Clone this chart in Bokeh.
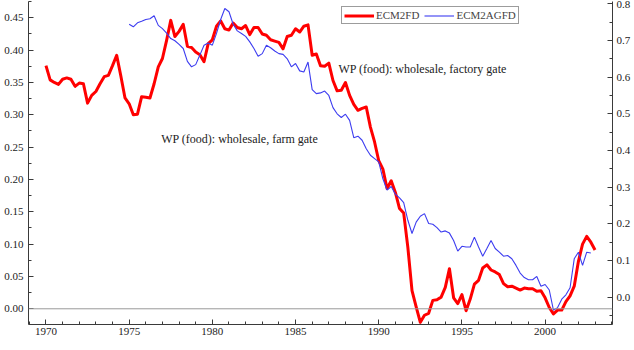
import numpy as np
from bokeh.plotting import figure
from bokeh.models import (Range1d, LinearAxis, FixedTicker, NumeralTickFormatter,
                          Span, Label, Legend, LegendItem)
from bokeh.embed import file_html
from bokeh.resources import INLINE

# Quarterly series
ecm2fd_start = 1970.0
ecm2fd = [
    0.376, 0.354, 0.350, 0.347,
    0.355, 0.357, 0.355, 0.344,
    0.349, 0.348, 0.318, 0.330,
    0.336, 0.348, 0.359, 0.361,
    0.376, 0.392, 0.360, 0.326,
    0.317, 0.300, 0.301, 0.328,
    0.327, 0.326, 0.348, 0.374,
    0.387, 0.415, 0.446, 0.421,
    0.429, 0.440, 0.406, 0.404,
    0.397, 0.393, 0.382, 0.410,
    0.416, 0.437, 0.445, 0.433,
    0.431, 0.442, 0.435, 0.433,
    0.438, 0.424, 0.435, 0.435,
    0.425, 0.423, 0.416, 0.414,
    0.412, 0.402, 0.421, 0.423,
    0.433, 0.428, 0.437, 0.439,
    0.392, 0.394, 0.376, 0.375,
    0.380, 0.353, 0.337, 0.338,
    0.350, 0.330, 0.316, 0.307,
    0.310, 0.312, 0.281, 0.258,
    0.229, 0.216, 0.186, 0.198,
    0.180, 0.155, 0.148, 0.095,
    0.028, 0.003, -0.021, -0.010,
    -0.007, 0.013, 0.014, 0.018,
    0.033, 0.062, 0.017, 0.008,
    0.022, -0.003, 0.015, 0.038,
    0.044, 0.063, 0.068, 0.060,
    0.057, 0.053, 0.039, 0.034,
    0.035, 0.032, 0.029, 0.032,
    0.031, 0.031, 0.027, 0.028,
    0.017, 0.002, -0.008, -0.002,
    -0.002, 0.011, 0.020, 0.035,
    0.073, 0.100, 0.112, 0.103,
    0.091,
]

ecm2agfd_start = 1975.0
ecm2agfd = [
    0.744, 0.737, 0.748, 0.752,
    0.757, 0.759, 0.767, 0.741,
    0.732, 0.720, 0.705, 0.699,
    0.689, 0.678, 0.643, 0.628,
    0.634, 0.660, 0.687, 0.693,
    0.687, 0.719, 0.757, 0.787,
    0.778, 0.744, 0.726, 0.719,
    0.711, 0.696, 0.678, 0.657,
    0.664, 0.687, 0.680, 0.671,
    0.664, 0.662, 0.650, 0.628,
    0.637, 0.617, 0.614, 0.641,
    0.566, 0.555, 0.557, 0.562,
    0.550, 0.517, 0.500, 0.490,
    0.499, 0.482, 0.435, 0.439,
    0.428, 0.405, 0.387, 0.378,
    0.369, 0.323, 0.292, 0.302,
    0.281, 0.271, 0.258, 0.210,
    0.174, 0.205, 0.221, 0.228,
    0.201, 0.199, 0.190, 0.178,
    0.181, 0.175, 0.155, 0.126,
    0.139, 0.137, 0.137, 0.164,
    0.137, 0.112, 0.133, 0.155,
    0.133, 0.123, 0.112, 0.114,
    0.105, 0.087, 0.066, 0.054,
    0.048, 0.048, 0.057, 0.030,
    0.035, 0.020, -0.035, -0.028,
    -0.005, 0.007, 0.026, 0.105,
    0.123, 0.087, 0.123, 0.121,
]

year_ticks = [1970, 1975, 1980, 1985, 1990, 1995, 2000]
left_ticks = [0.00, 0.05, 0.10, 0.15, 0.20, 0.25, 0.30, 0.35, 0.40, 0.45]
right_ticks = [0.0, 0.1, 0.2, 0.3, 0.4, 0.5, 0.6, 0.7, 0.8]

series_names = ["ECM2FD", "ECM2AGFD"]
notes = ["WP (food): wholesale, factory gate", "WP (food): wholesale, farm gate"]

FONT = "Liberation Serif"
AXIS_COLOR = "#3a3a3a"

x_fd = ecm2fd_start + np.arange(len(ecm2fd)) / 4.0
x_ag = ecm2agfd_start + np.arange(len(ecm2agfd)) / 4.0

p = figure(width=634, height=350, output_backend="svg", toolbar_location=None,
           x_range=Range1d(1968.95, 2004.05), y_range=Range1d(-0.0243, 0.4752),
           min_border_left=28, min_border_right=22, min_border_top=1,
           min_border_bottom=26)
p.extra_y_ranges = {"right": Range1d(-0.074, 0.806)}
p.xgrid.visible = False
p.ygrid.visible = False
p.outline_line_color = None
p.background_fill_color = "white"
p.border_fill_color = "white"

# zero reference line
p.add_layout(Span(location=0, dimension="width", line_color="#9a9a9a", line_width=1))

r_fd = p.line(x_fd, ecm2fd, line_color="#ff0000", line_width=3, line_join="round")
r_ag = p.line(x_ag, ecm2agfd, line_color="#3d3df0", line_width=1.1,
              y_range_name="right")

right_axis = LinearAxis(y_range_name="right")
p.add_layout(right_axis, "right")


def style_axis(ax):
    ax.axis_line_color = AXIS_COLOR
    ax.major_tick_line_color = AXIS_COLOR
    ax.minor_tick_line_color = AXIS_COLOR
    ax.major_tick_in = 5
    ax.major_tick_out = 0
    ax.minor_tick_in = 3
    ax.minor_tick_out = 0
    ax.major_label_text_font = FONT
    ax.major_label_text_font_size = "11px"
    ax.major_label_text_color = "#222222"


xa = p.xaxis[0]
style_axis(xa)
xa.ticker = FixedTicker(ticks=year_ticks, minor_ticks=list(range(1969, 2005)))
xa.major_label_standoff = 3

ya = p.yaxis[0]
style_axis(ya)
ya.ticker = FixedTicker(ticks=left_ticks,
                        minor_ticks=[round(-0.025 + 0.025 * i, 3) for i in range(21)])
ya.formatter = NumeralTickFormatter(format="0.00")
ya.major_label_standoff = 5

style_axis(right_axis)
right_axis.ticker = FixedTicker(ticks=right_ticks,
                                minor_ticks=[round(-0.05 + 0.05 * i, 3) for i in range(18)])
right_axis.formatter = NumeralTickFormatter(format="0.0")
right_axis.major_label_standoff = 4

legend = Legend(items=[LegendItem(label=series_names[0], renderers=[r_fd]),
                       LegendItem(label=series_names[1], renderers=[r_ag])],
                orientation="horizontal", location=(313, 300),
                padding=2, margin=0, spacing=5, glyph_width=30, glyph_height=11,
                label_standoff=2, label_height=11, label_width=10,
                label_text_font=FONT, label_text_font_size="11px",
                label_text_line_height=1.0,
                border_line_color=AXIS_COLOR, border_line_width=1,
                background_fill_alpha=1.0)
p.add_layout(legend, "center")

p.add_layout(Label(x=1987.58, y=0.3708, text=notes[0], text_font=FONT,
                   text_font_size="12px", text_baseline="middle", text_color="#222222"))
p.add_layout(Label(x=1976.93, y=0.2633, text=notes[1], text_font=FONT,
                   text_font_size="12px", text_baseline="middle", text_color="#222222"))

open("out.html", "w").write(file_html(p, INLINE))
